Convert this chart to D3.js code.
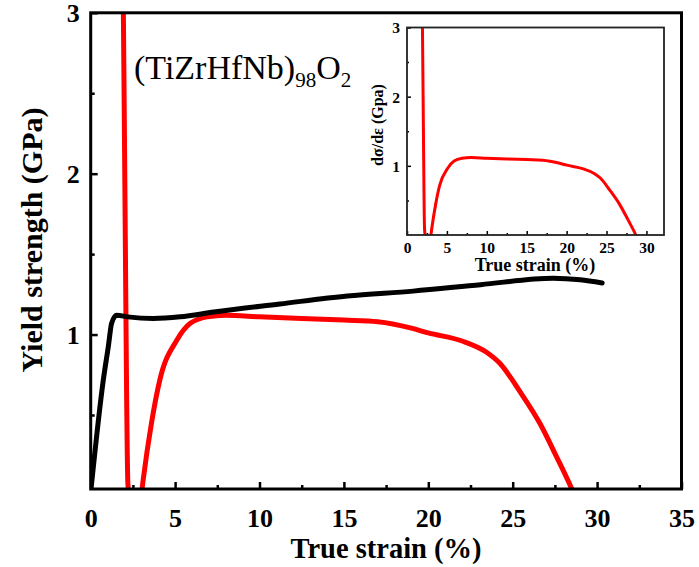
<!DOCTYPE html>
<html>
<head>
<meta charset="utf-8">
<script src="https://cdn.jsdelivr.net/npm/d3@7"></script>
<style>
  html, body { margin: 0; padding: 0; background: #fff; }
  svg { display: block; }
  text { font-family: "Liberation Serif", "Times New Roman", serif; }
</style>
</head>
<body>
<svg id="chart" width="699" height="567"></svg>
<script>
// ---- Data ----
const strainBlack = [0, 0.75, 1.05, 1.24, 1.54, 2.2, 3.7, 5.3, 7.3, 11.2, 15.2, 19.1, 23.1, 27.4, 29.0, 30.3];
const stressBlack = [0.02, 0.72, 0.93, 1.07, 1.12, 1.11, 1.10, 1.11, 1.14, 1.19, 1.24, 1.27, 1.31, 1.35, 1.34, 1.32];

const strainRed = [1.9, 1.97, 2.05, 2.13, 2.2, 2.35, 2.65, 2.95, 3.1, 3.6, 4.1, 5.1, 5.9, 6.9, 8, 10, 15, 17, 19, 20, 22, 23.45, 24.25, 25.4, 26.6, 27.6, 28.5, 28.7];
const hardRed   = [3.4, 2.6, 1.6, 0.6, 0.08, -0.06, -0.14, -0.04, 0.09, 0.45, 0.72, 0.965, 1.07, 1.11, 1.12, 1.11, 1.09, 1.08, 1.04, 1.01, 0.96, 0.89, 0.82, 0.65, 0.45, 0.24, 0.04, -0.01];

const xMajorTicks = [0, 5, 10, 15, 20, 25, 30, 35];
const xMinorTicks = [2.5, 7.5, 12.5, 17.5, 22.5, 27.5, 32.5];
const yMajorTicks = [1, 2, 3];
const yMinorTicks = [0.5, 1.5, 2.5];
const insetXTicks = [0, 5, 10, 15, 20, 25, 30];
const insetXMinor = [2.5, 7.5, 12.5, 17.5, 22.5, 27.5];

const blackData = strainBlack.map((x, i) => [x, stressBlack[i]]);
const redData = strainRed.map((x, i) => [x, hardRed[i]]);

const svg = d3.select("#chart");

// ---- Main chart ----
const M = { left: 90.7, right: 681.5, top: 12.8, bottom: 489 };
const x = d3.scaleLinear().domain([0, 35]).range([M.left, M.right]);
const y = d3.scaleLinear().domain([0.04, 3]).range([M.bottom, M.top]);

svg.append("clipPath").attr("id", "mainClip")
  .append("rect").attr("x", M.left).attr("y", M.top)
  .attr("width", M.right - M.left).attr("height", M.bottom - M.top);

const line = (sx, sy) => d3.line().x(d => sx(d[0])).y(d => sy(d[1])).curve(d3.curveMonotoneX);

const plot = svg.append("g").attr("clip-path", "url(#mainClip)");
plot.append("path").datum(redData).attr("d", line(x, y))
  .attr("fill", "none").attr("stroke", "#ff0000").attr("stroke-width", 5).attr("stroke-linejoin", "round");
plot.append("path").datum(blackData).attr("d", line(x, y))
  .attr("fill", "none").attr("stroke", "#000").attr("stroke-width", 5).attr("stroke-linejoin", "round").attr("stroke-linecap", "round");

// axes (inward ticks)
const xAxis = svg.append("g").attr("transform", `translate(0,${M.bottom})`)
  .call(d3.axisBottom(x).tickValues(xMajorTicks).tickSize(-7).tickFormat(d3.format("d")));
const xMinor = svg.append("g").attr("transform", `translate(0,${M.bottom})`)
  .call(d3.axisBottom(x).tickValues(xMinorTicks).tickSize(-4).tickFormat(""));
const yAxis = svg.append("g").attr("transform", `translate(${M.left},0)`)
  .call(d3.axisLeft(y).tickValues(yMajorTicks).tickSize(-7).tickFormat(d3.format("d")));
const yMinor = svg.append("g").attr("transform", `translate(${M.left},0)`)
  .call(d3.axisLeft(y).tickValues(yMinorTicks).tickSize(-4).tickFormat(""));

[xAxis, xMinor, yAxis, yMinor].forEach(g => {
  g.select(".domain").remove();
  g.selectAll(".tick line").attr("stroke", "#000").attr("stroke-width", 2.5);
});
xAxis.selectAll(".tick text").attr("dy", null).attr("y", 38)
  .attr("font-size", 26).attr("font-weight", "bold").attr("fill", "#000");
yAxis.selectAll(".tick text").attr("x", -11).attr("dy", "0.35em")
  .attr("font-size", 26).attr("font-weight", "bold").attr("fill", "#000");

svg.append("rect").attr("x", M.left).attr("y", M.top)
  .attr("width", M.right - M.left).attr("height", M.bottom - M.top)
  .attr("fill", "none").attr("stroke", "#000").attr("stroke-width", 3);

svg.append("text").attr("x", 386).attr("y", 558)
  .attr("text-anchor", "middle").attr("font-size", 28.5).attr("font-weight", "bold")
  .text("True strain (%)");
svg.append("text").attr("transform", `translate(42,240) rotate(-90)`)
  .attr("text-anchor", "middle").attr("font-size", 30).attr("font-weight", "bold")
  .text("Yield strength (GPa)");

const title = svg.append("text").attr("x", 134).attr("y", 79).attr("font-size", 34).attr("fill", "#000");
title.append("tspan").text("(TiZrHfNb)");
title.append("tspan").attr("font-size", 21).attr("dy", 8).text("98");
title.append("tspan").attr("dy", -8).text("O");
title.append("tspan").attr("font-size", 21).attr("dy", 8).text("2");

// ---- Inset ----
const I = { left: 407, right: 664, top: 27.5, bottom: 235 };
const xi = d3.scaleLinear().domain([0, 32.2]).range([I.left, I.right]);
const yi = d3.scaleLinear().domain([0, 3]).range([I.bottom, I.top]);

svg.append("rect").attr("x", I.left).attr("y", I.top)
  .attr("width", I.right - I.left).attr("height", I.bottom - I.top).attr("fill", "#fff");

svg.append("clipPath").attr("id", "insetClip")
  .append("rect").attr("x", I.left).attr("y", I.top)
  .attr("width", I.right - I.left).attr("height", I.bottom - I.top);

svg.append("g").attr("clip-path", "url(#insetClip)")
  .append("path").datum(redData).attr("d", line(xi, yi))
  .attr("fill", "none").attr("stroke", "#ff0000").attr("stroke-width", 3).attr("stroke-linejoin", "round");

const xiAxis = svg.append("g").attr("transform", `translate(0,${I.bottom})`)
  .call(d3.axisBottom(xi).tickValues(insetXTicks).tickSize(-4).tickFormat(d3.format("d")));
const xiMinor = svg.append("g").attr("transform", `translate(0,${I.bottom})`)
  .call(d3.axisBottom(xi).tickValues(insetXMinor).tickSize(-2).tickFormat(""));
const yiAxis = svg.append("g").attr("transform", `translate(${I.left},0)`)
  .call(d3.axisLeft(yi).tickValues(yMajorTicks).tickSize(-4).tickFormat(d3.format("d")));
const yiMinor = svg.append("g").attr("transform", `translate(${I.left},0)`)
  .call(d3.axisLeft(yi).tickValues(yMinorTicks).tickSize(-2).tickFormat(""));
[xiAxis, xiMinor, yiAxis, yiMinor].forEach(g => {
  g.select(".domain").remove();
  g.selectAll(".tick line").attr("stroke", "#000").attr("stroke-width", 1.5);
});
xiAxis.selectAll(".tick text").attr("dy", null).attr("y", 18)
  .attr("font-size", 15.5).attr("font-weight", "bold").attr("fill", "#000");
yiAxis.selectAll(".tick text").attr("x", -7).attr("dy", "0.35em")
  .attr("font-size", 15.5).attr("font-weight", "bold").attr("fill", "#000");

svg.append("rect").attr("x", I.left).attr("y", I.top)
  .attr("width", I.right - I.left).attr("height", I.bottom - I.top)
  .attr("fill", "none").attr("stroke", "#222").attr("stroke-width", 1.8);

svg.append("text").attr("x", 535).attr("y", 271)
  .attr("text-anchor", "middle").attr("font-size", 18).attr("font-weight", "bold")
  .text("True strain (%)");
svg.append("text").attr("transform", `translate(383,125) rotate(-90)`)
  .attr("text-anchor", "middle").attr("font-size", 16).attr("font-weight", "bold")
  .text("dσ/dε (Gpa)");
</script>
</body>
</html>
